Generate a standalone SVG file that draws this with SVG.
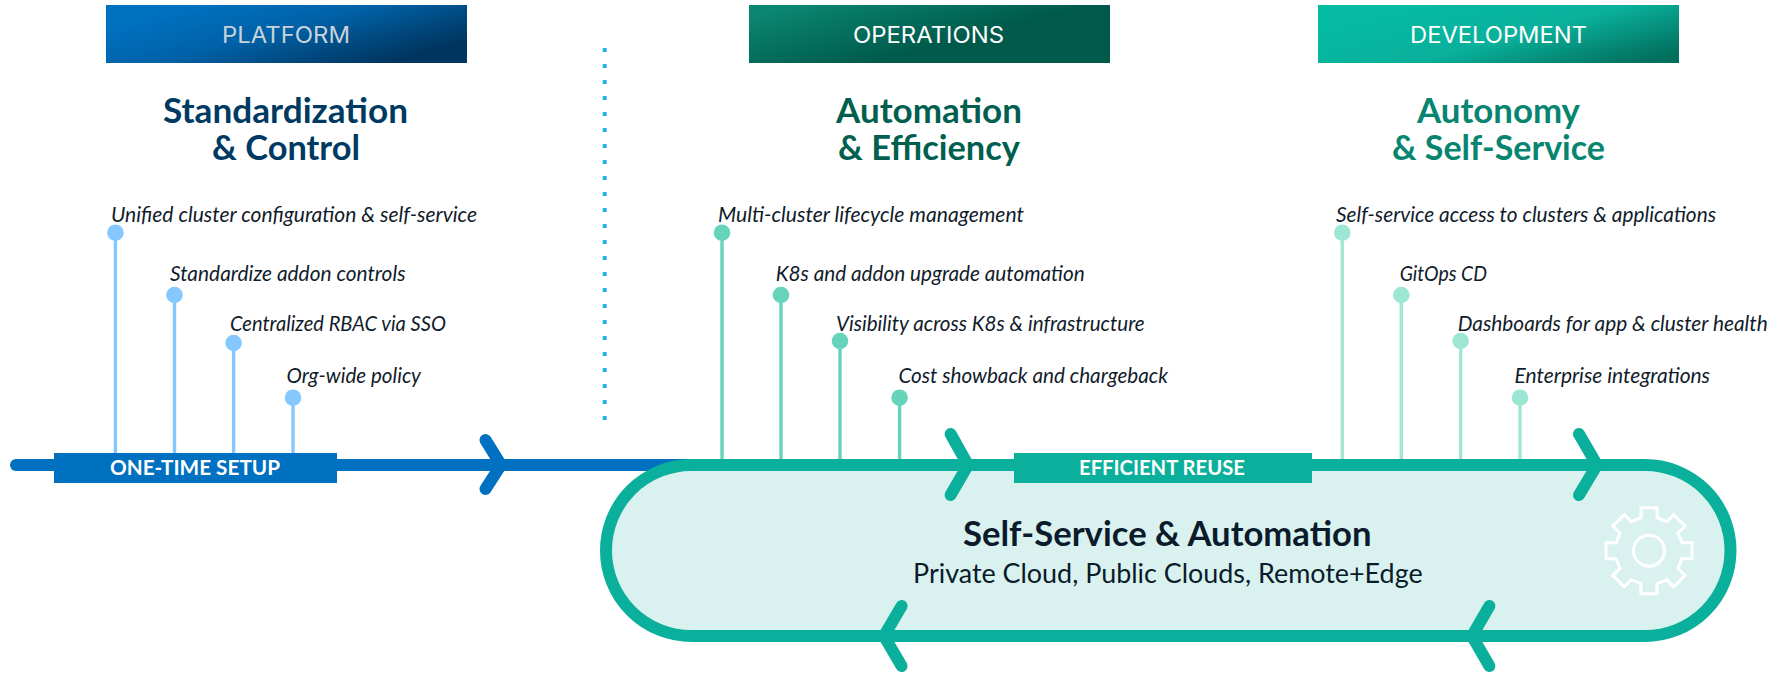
<svg xmlns="http://www.w3.org/2000/svg" width="1772" height="675" viewBox="0 0 1772 675">
<style>
text{font-family:"Lato","Noto Sans","Liberation Sans",sans-serif}
.hdr{font-family:"Inter","Noto Sans",sans-serif;font-size:22.5px;fill:#fff}
.ttl{font-size:33.5px;font-weight:700}
.item{font-size:20.5px;font-style:italic;fill:#111c2b}
.tag{font-size:20px;font-weight:700;fill:#fff}
.bl{stroke:#85c8ff;stroke-width:3.4;fill:none}
.bd{fill:#85c8ff}
.ol{stroke:#66d4ba;stroke-width:3.4;fill:none}
.od{fill:#66d4ba}
.dl{stroke:#a3e6d6;stroke-width:3.4;fill:none}
.dd{fill:#9ee6d4}
.chev{fill:none;stroke-width:12;stroke-linecap:round;stroke-linejoin:miter}
</style>
<defs>
<linearGradient id="gp" x1="0" y1="0.2" x2="1" y2="0.8"><stop offset="0.1" stop-color="#0070c0"/><stop offset="0.45" stop-color="#0062a8"/><stop offset="0.92" stop-color="#00355f"/></linearGradient>
<linearGradient id="go" x1="0" y1="0.2" x2="1" y2="0.8"><stop offset="0" stop-color="#0a8672"/><stop offset="0.6" stop-color="#005a4b"/></linearGradient>
<linearGradient id="gd" x1="0" y1="0.2" x2="1" y2="0.8"><stop offset="0.1" stop-color="#04bba1"/><stop offset="0.55" stop-color="#0ab09b"/><stop offset="1" stop-color="#00705e"/></linearGradient>
</defs>

<g id="connectors">
<line id="divider" x1="604.7" y1="48" x2="604.7" y2="420" stroke="#1fb5ea" stroke-width="4" stroke-dasharray="4 12"/>
<path d="M16 465H700" stroke="#0070c0" stroke-width="12" stroke-linecap="round" fill="none"/>
<path class="bl" d="M115.4 233V459M174.5 295V459M233.6 343V459M293 398V459"/>
<path class="ol" d="M722 233V459M781 295V459M840 341V459M899.6 398V459"/>
<path class="dl" d="M1342.3 233V459M1401.3 295V459M1460.6 341V459M1520 398V459"/>
<path class="chev" stroke="#0070c0" d="M485.5 440L501 465L485.5 489"/>
</g>

<g id="platform-header"><rect x="106" y="5" width="361" height="58" fill="url(#gp)"/><text class="hdr" x="222" y="42.7" textLength="128" lengthAdjust="spacingAndGlyphs" style="fill:#c9d3dc">PLATFORM</text></g>
<g id="operations-header"><rect x="749" y="5" width="361" height="58" fill="url(#go)"/><text class="hdr" x="853" y="42.7" textLength="151" lengthAdjust="spacingAndGlyphs">OPERATIONS</text></g>
<g id="development-header"><rect x="1318" y="5" width="361" height="58" fill="url(#gd)"/><text class="hdr" x="1410" y="42.7" textLength="177" lengthAdjust="spacingAndGlyphs">DEVELOPMENT</text></g>

<g id="platform-title" fill="#003a63"><text class="ttl" x="163" y="122.7" textLength="245" lengthAdjust="spacingAndGlyphs">Standardization</text><text class="ttl" x="212" y="159.5" textLength="148" lengthAdjust="spacingAndGlyphs">&amp; Control</text></g>
<g id="operations-title" fill="#005f4f"><text class="ttl" x="836" y="122.7" textLength="186" lengthAdjust="spacingAndGlyphs">Automation</text><text class="ttl" x="838" y="159.5" textLength="182" lengthAdjust="spacingAndGlyphs">&amp; Efficiency</text></g>
<g id="development-title" fill="#078571"><text class="ttl" x="1417" y="122.7" textLength="163" lengthAdjust="spacingAndGlyphs">Autonomy</text><text class="ttl" x="1392" y="159.5" textLength="213" lengthAdjust="spacingAndGlyphs">&amp; Self-Service</text></g>

<g id="p1"><circle class="bd" cx="115.4" cy="232.7" r="8.3"/><text class="item" x="111" y="222" textLength="366" lengthAdjust="spacingAndGlyphs">Unified cluster configuration &amp; self-service</text></g>
<g id="p2"><circle class="bd" cx="174.5" cy="295" r="8.3"/><text class="item" x="170" y="281" textLength="235.500" lengthAdjust="spacingAndGlyphs">Standardize addon controls</text></g>
<g id="p3"><circle class="bd" cx="233.6" cy="343" r="8.3"/><text class="item" x="230" y="331" textLength="216" lengthAdjust="spacingAndGlyphs">Centralized RBAC via SSO</text></g>
<g id="p4"><circle class="bd" cx="293" cy="397.700" r="8.3"/><text class="item" x="286.500" y="383" textLength="134.500" lengthAdjust="spacingAndGlyphs">Org-wide policy</text></g>

<g id="o1"><circle class="od" cx="722" cy="232.700" r="8.3"/><text class="item" x="718" y="222" textLength="306" lengthAdjust="spacingAndGlyphs">Multi-cluster lifecycle management</text></g>
<g id="o2"><circle class="od" cx="781" cy="295" r="8.3"/><text class="item" x="775.700" y="281" textLength="309" lengthAdjust="spacingAndGlyphs">K8s and addon upgrade automation</text></g>
<g id="o3"><circle class="od" cx="840" cy="341" r="8.3"/><text class="item" x="836" y="331" textLength="308.700" lengthAdjust="spacingAndGlyphs">Visibility across K8s &amp; infrastructure</text></g>
<g id="o4"><circle class="od" cx="899.600" cy="397.700" r="8.3"/><text class="item" x="898.400" y="383" textLength="269.600" lengthAdjust="spacingAndGlyphs">Cost showback and chargeback</text></g>

<g id="d1"><circle class="dd" cx="1342.300" cy="232.700" r="8.3"/><text class="item" x="1336" y="222" textLength="380" lengthAdjust="spacingAndGlyphs">Self-service access to clusters &amp; applications</text></g>
<g id="d2"><circle class="dd" cx="1401.300" cy="295" r="8.3"/><text class="item" x="1399.700" y="281" textLength="87.300" lengthAdjust="spacingAndGlyphs">GitOps CD</text></g>
<g id="d3"><circle class="dd" cx="1460.600" cy="341" r="8.3"/><text class="item" x="1457.700" y="331" textLength="310" lengthAdjust="spacingAndGlyphs">Dashboards for app &amp; cluster health</text></g>
<g id="d4"><circle class="dd" cx="1520" cy="397.700" r="8.3"/><text class="item" x="1514.600" y="383" textLength="195.400" lengthAdjust="spacingAndGlyphs">Enterprise integrations</text></g>

<g id="loop">
<rect x="606" y="465" width="1124.500" height="171" rx="85.500" ry="85.500" fill="#daf2ef" stroke="#0ab09b" stroke-width="12"/>
<g class="chev" stroke="#0ab09b">
<path d="M950.600 434L968 465L950.600 495"/>
<path d="M1579 434L1597 465L1579 495"/>
<path d="M901.600 606L884 636L901.600 666"/>
<path d="M1489.400 606L1472 636L1489.400 666"/>
</g>
<text x="963" y="545.700" font-size="33.500" font-weight="700" fill="#0b1b2b" textLength="408.500" lengthAdjust="spacingAndGlyphs">Self-Service &amp; Automation</text>
<text x="913" y="583" font-size="27" fill="#0b1b2b" textLength="509.600" lengthAdjust="spacingAndGlyphs">Private Cloud, Public Clouds, Remote+Edge</text>
<g id="gear" transform="translate(1649 550.700)" fill="none" stroke="#fff" stroke-width="3">
<path d="M-8 -33L-8 -43L8 -43L8 -33L17.700 -29L24.700 -36.100L36.100 -24.700L29 -17.700L33 -8L43 -8L43 8L33 8L29 17.700L36.100 24.700L24.700 36.100L17.700 29L8 33L8 43L-8 43L-8 33L-17.700 29L-24.700 36.100L-36.100 24.700L-29 17.700L-33 8L-43 8L-43 -8L-33 -8L-29 -17.700L-36.100 -24.700L-24.700 -36.100L-17.700 -29Z"/>
<circle r="15.500"/>
</g>
</g>

<g id="one-time-setup"><rect x="54" y="453" width="283" height="30" fill="#0070c0"/><text class="tag" x="110" y="475.300" textLength="170" lengthAdjust="spacingAndGlyphs">ONE-TIME SETUP</text></g>
<g id="efficient-reuse"><rect x="1014" y="453" width="298" height="30" fill="#0ab09b"/><text class="tag" x="1079" y="475.300" textLength="166" lengthAdjust="spacingAndGlyphs">EFFICIENT REUSE</text></g>
</svg>
